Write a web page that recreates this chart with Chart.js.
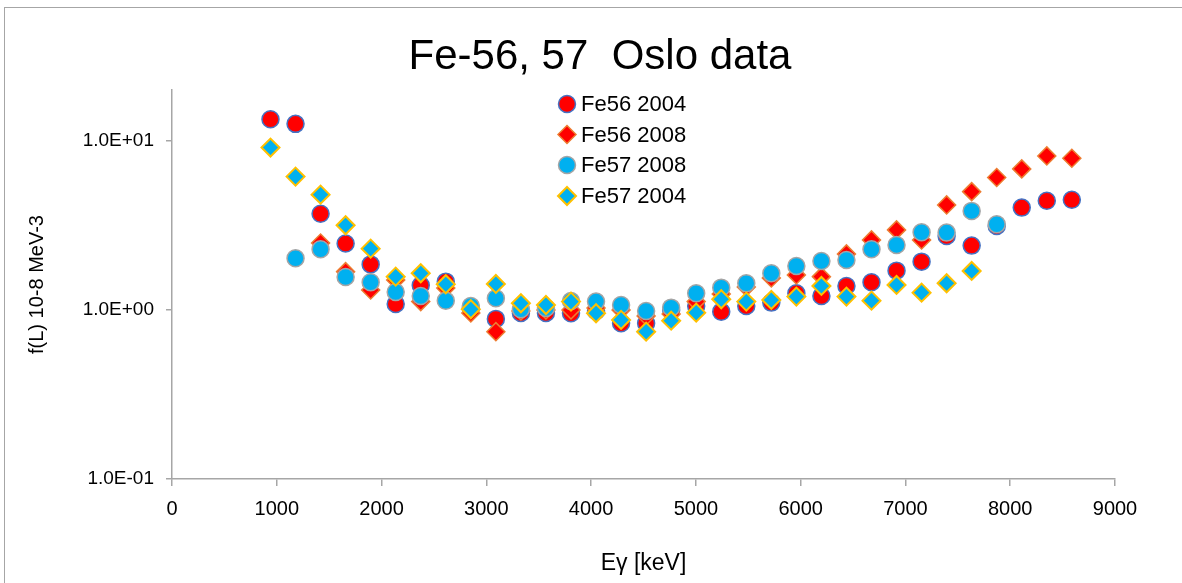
<!DOCTYPE html>
<html>
<head>
<meta charset="utf-8">
<script src="https://cdn.jsdelivr.net/npm/chart.js@4.4.1/dist/chart.umd.min.js"></script>
<style>
  html, body { margin: 0; padding: 0; background: #fff; overflow: hidden; }
  #frame { position: absolute; left: 4px; top: 7px; width: 1300px; height: 700px; border: 1px solid #a6a6a6; }
  #chart { position: absolute; left: 0; top: 0; }
</style>
</head>
<body>
<div id="frame"></div>
<canvas id="chart" width="1182" height="583"></canvas>
<script>
// gamma energies (keV), one bin every ~239 keV
const energies = [940, 1179, 1418, 1657, 1896, 2135, 2374, 2613, 2852, 3091, 3330,
    3569, 3808, 4047, 4286, 4525, 4764, 5003, 5242, 5481, 5720, 5959, 6198,
    6437, 6676, 6915, 7154, 7393, 7632, 7871, 8110, 8349, 8588];

// f(L) in units of 10^-8 MeV^-3, null where a set has no point
const fe56_2004 = [13.44, 12.61, 3.71, 2.47, 1.86, 1.085, 1.40, 1.47, 1.028, 0.885, 0.960,
    0.960, 0.956, 0.986, 0.834, 0.834, 1.00, 1.056, 0.977, 1.056, 1.105, 1.255, 1.210,
    1.387, 1.458, 1.708, 1.931, 2.741, 2.402, 3.14, 4.03, 4.42, 4.49];
const fe56_2008 = [null, null, 2.49, 1.685, 1.313, 1.505, 1.120, 1.349, 0.960, 0.744, 0.986,
    1.00, 1.00, 1.028, 1.00, 0.922, 0.947, 1.120, 1.244, 1.368, 1.546, 1.611, 1.574,
    2.145, 2.595, 2.975, 2.595, 4.18, 5.01, 6.07, 6.83, 8.15, 7.90];
const fe57_2008 = [null, 2.023, 2.287, 1.568, 1.458, 1.278, 1.210, 1.135, 1.056, 1.173, 1.010,
    1.028, 1.130, 1.120, 1.070, 0.986, 1.032, 1.255, 1.355, 1.439, 1.649, 1.821, 1.949,
    1.976, 2.287, 2.424, 2.883, 2.867, 3.853, 3.215, null, null, null];
const fe57_2004 = [9.13, 6.15, 4.81, 3.171, 2.305, 1.574, 1.649, 1.419, 1.010, 1.425, 1.096,
    1.070, 1.120, 0.956, 0.873, 0.744, 0.864, 0.964, 1.157, 1.120, 1.146, 1.199, 1.387,
    1.199, 1.135, 1.406, 1.266, 1.439, 1.701, null, null, null, null];

const seriesNames = ['Fe56 2004', 'Fe56 2008', 'Fe57 2008', 'Fe57 2004'];
const yTickValues = [0.1, 1, 10];
const yTickLabels = ['1.0E-01', '1.0E+00', '1.0E+01'];

const FONT = '"Liberation Sans", Arial, sans-serif';
const AXIS_GRAY = '#a6a6a6';

const toPoints = (vals) => vals
    .map((v, i) => (v === null ? null : { x: energies[i], y: v }))
    .filter(p => p !== null);

// marker styles: fill, edge, shape
const styles = [
    { fill: '#ff0000', edge: '#4472c4', shape: 'circle', r: 8.5, bw: 1.5 },
    { fill: '#ff0000', edge: '#ed7d31', shape: 'rectRot', r: 9, bw: 1.5 },
    { fill: '#00b0f0', edge: '#a5a5a5', shape: 'circle', r: 8.5, bw: 1.5 },
    { fill: '#00b0f0', edge: '#ffc000', shape: 'rectRot', r: 9, bw: 2 }
];
const allSeries = [fe56_2004, fe56_2008, fe57_2008, fe57_2004];

const datasets = allSeries.map((vals, k) => ({
    label: seriesNames[k],
    data: toPoints(vals),
    pointStyle: styles[k].shape,
    pointRadius: styles[k].r,
    pointHoverRadius: styles[k].r,
    pointBackgroundColor: styles[k].fill,
    pointBorderColor: styles[k].edge,
    pointBorderWidth: styles[k].bw,
    showLine: false,
    order: 4 - k // later series sit on top
}));

// chart title + legend inside the plot area
const overlay = {
    id: 'overlay',
    afterDraw(chart) {
        const ctx = chart.ctx;
        ctx.save();
        ctx.fillStyle = '#000';
        ctx.textAlign = 'center';
        ctx.textBaseline = 'middle';
        ctx.font = '42px ' + FONT;
        ctx.fillText('Fe-56, 57  Oslo data', 600, 57);

        const rowsY = [104, 134.5, 165, 196];
        ctx.font = '22px ' + FONT;
        ctx.textAlign = 'left';
        styles.forEach((s, k) => {
            const x = 567, y = rowsY[k], r = s.r;
            ctx.beginPath();
            if (s.shape === 'circle') {
                ctx.arc(x, y, r, 0, Math.PI * 2);
            } else {
                ctx.moveTo(x, y - r); ctx.lineTo(x + r, y);
                ctx.lineTo(x, y + r); ctx.lineTo(x - r, y);
                ctx.closePath();
            }
            ctx.fillStyle = s.fill;
            ctx.fill();
            ctx.lineWidth = s.bw;
            ctx.strokeStyle = s.edge;
            ctx.stroke();
            ctx.fillStyle = '#000';
            ctx.fillText(seriesNames[k], 581, y + 1);
        });
        ctx.restore();
    }
};

new Chart(document.getElementById('chart'), {
    type: 'scatter',
    data: { datasets },
    options: {
        responsive: false,
        animation: false,
        events: [],
        layout: { padding: { top: 90, right: 67, left: 0, bottom: 0 } },
        plugins: { legend: { display: false }, title: { display: false }, tooltip: { enabled: false } },
        scales: {
            x: {
                type: 'linear', min: 0, max: 9000,
                ticks: {
                    stepSize: 1000, color: '#000', padding: 11, font: { family: FONT, size: 20 },
                    callback: (v) => String(v)
                },
                grid: { drawOnChartArea: false, drawTicks: true, tickLength: 7, color: AXIS_GRAY, lineWidth: 1.5 },
                border: { color: AXIS_GRAY, width: 1.5 },
                title: { display: true, text: 'Eγ [keV]', color: '#000', font: { family: FONT, size: 23 }, padding: { top: 0, bottom: 6 } },
                afterFit: (scale) => { scale.height = 104; }
            },
            y: {
                type: 'logarithmic', min: 0.1, max: 20,
                afterBuildTicks: (scale) => { scale.ticks = yTickValues.map(v => ({ value: v })); },
                ticks: {
                    color: '#000', padding: 12, font: { family: FONT, size: 19 },
                    callback: (v) => yTickLabels[yTickValues.indexOf(v)]
                },
                grid: { drawOnChartArea: false, drawTicks: true, tickLength: 6, color: AXIS_GRAY, lineWidth: 1.5 },
                border: { color: AXIS_GRAY, width: 1.5 },
                title: { display: true, text: 'f(L) 10-8 MeV-3', color: '#000', font: { family: FONT, size: 20 }, padding: { top: 25, bottom: 0 } },
                afterFit: (scale) => { scale.width = 172; }
            }
        }
    },
    plugins: [overlay]
});
</script>
</body>
</html>
